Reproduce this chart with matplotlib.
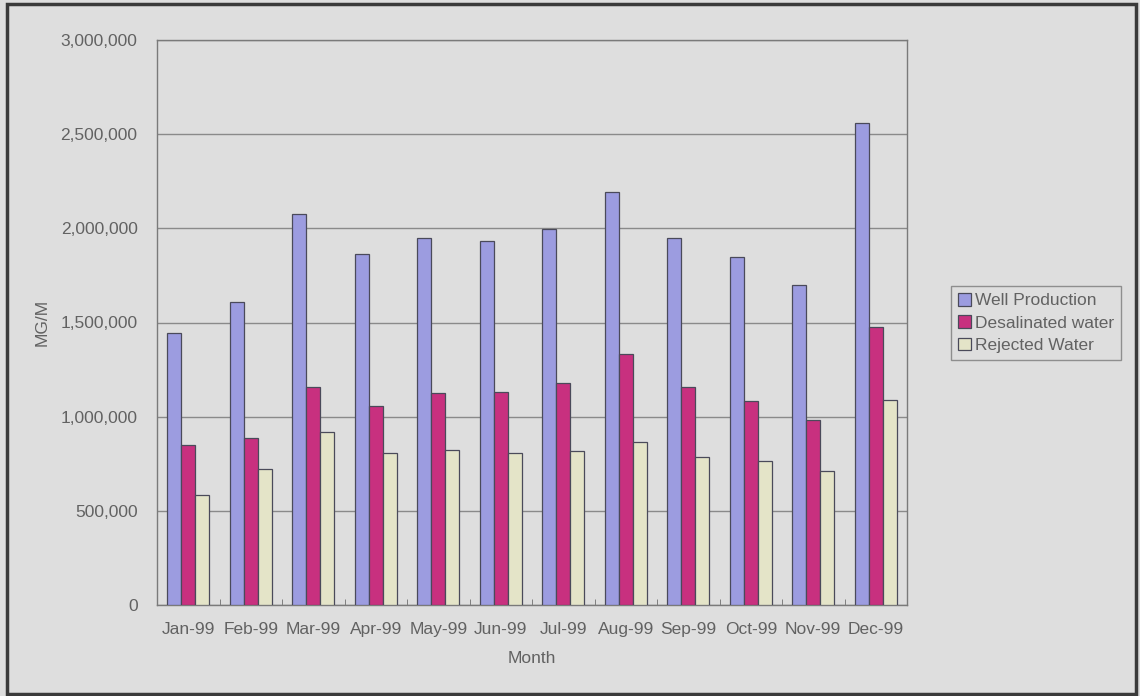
import numpy as np
import matplotlib
matplotlib.use("Agg")
import matplotlib.pyplot as plt
from matplotlib.patches import Rectangle
from matplotlib.ticker import FuncFormatter, FixedLocator

plt.rcParams["font.family"] = ["Liberation Sans", "DejaVu Sans"]

meses = ["Jan-99", "Feb-99", "Mar-99", "Apr-99", "May-99", "Jun-99",
         "Jul-99", "Aug-99", "Sep-99", "Oct-99", "Nov-99", "Dec-99"]
well_production = [1444000, 1609000, 2076000, 1864000, 1949000, 1933000,
                   1997000, 2193000, 1949000, 1848000, 1699000, 2559000]
desalinated = [849000, 888000, 1157000, 1058000, 1125000, 1130000,
               1178000, 1332000, 1157000, 1083000, 982000, 1476000]
rejected = [584000, 722000, 918000, 807000, 823000, 807000,
            818000, 865000, 786000, 764000, 711000, 1088000]

series = [
    ("Well Production", well_production, "#9c9ce0"),
    ("Desalinated water", desalinated, "#c8307f"),
    ("Rejected Water", rejected, "#e4e4c8"),
]

fundo = "#dedede"
cinza = "#626262"

fig = plt.figure(figsize=(11.4, 6.96), dpi=100, facecolor=fundo)
ax = fig.add_axes([157 / 1140, 1 - 605 / 696, 750 / 1140, 565 / 696])
ax.set_facecolor(fundo)

x = np.arange(len(meses))
largura = 1 / 4.5
for i, (nome, valores, cor) in enumerate(series):
    ax.bar(x + (i - 1) * largura, valores, width=largura, color=cor,
           edgecolor="#4a4a5a", linewidth=0.9, label=nome, zorder=3)

ax.set_xlim(-0.5, len(meses) - 0.5)
ax.set_ylim(0, 3000000)
ax.set_yticks(np.arange(0, 3000001, 500000))
ax.yaxis.set_major_formatter(FuncFormatter(lambda v, p: f"{int(v):,}"))
ax.grid(axis="y", color="#8a8a8a", linewidth=1, zorder=0)

ax.set_xticks(x)
ax.set_xticklabels(meses)
ax.xaxis.set_minor_locator(FixedLocator(np.arange(-0.5, len(meses), 1)))
ax.tick_params(axis="x", which="major", length=0, pad=12, labelsize=12.5, colors=cinza)
ax.tick_params(axis="x", which="minor", length=4, direction="in", color="#707070")
ax.tick_params(axis="y", length=0, pad=14, labelsize=12.5, colors=cinza)

for lado in ax.spines.values():
    lado.set_color("#7a7a7a")
    lado.set_linewidth(1)

ax.set_xlabel("Month", fontsize=12.5, color=cinza, labelpad=10)
ax.set_ylabel("MG/M", fontsize=12.5, color=cinza, labelpad=8)

leg = fig.legend(loc="center left", bbox_to_anchor=(951 / 1140, 1 - 323 / 696),
                 fontsize=12.5, frameon=True, fancybox=False, handlelength=0.75,
                 handleheight=0.75, handletextpad=0.25, borderpad=0.4,
                 labelspacing=0.4, borderaxespad=0)
leg.get_frame().set_facecolor(fundo)
leg.get_frame().set_edgecolor("#7a7a7a")
for t in leg.get_texts():
    t.set_color(cinza)

fig.patches.append(Rectangle((7 / 1140, 1 - 694 / 696), 1129 / 1140, 690 / 696,
                             transform=fig.transFigure, fill=False,
                             edgecolor="#3a3a3a", linewidth=2.5))

fig.savefig("out.png", dpi=100, facecolor=fundo)
